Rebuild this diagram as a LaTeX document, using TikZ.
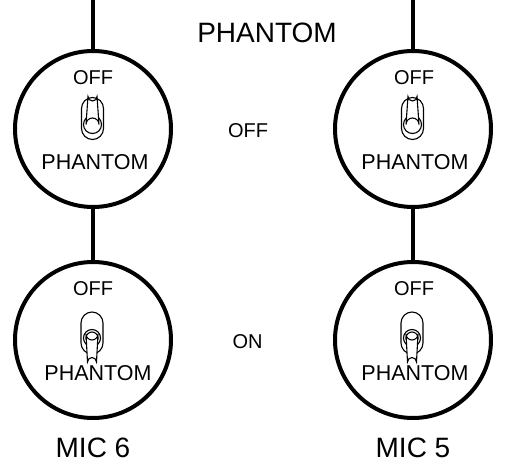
\documentclass[tikz,border=0pt]{standalone}
\usepackage{fontspec}
\setmainfont{Liberation Sans}

\tikzset{
  dial/.style={circle,draw,line width=4pt,inner sep=0pt,minimum size=156pt,fill=white},
  wire/.style={line width=4.5pt},
  lbl/.style={inner sep=0pt,font=\fontsize{20}{22}\selectfont},
  plbl/.style={inner sep=0pt,font=\fontsize{21.5}{23}\selectfont},
  biglbl/.style={inner sep=0pt,font=\fontsize{28}{30}\selectfont},
  offtoggle/.pic={
    \draw[line width=1.1pt,fill=white,rounded corners=11pt] (-11,-27) rectangle (11,15);
    \draw[line width=1.1pt] (0,0) circle (9pt);
    \draw[line width=1.1pt,fill=white] (-6.5,0) -- (-4.5,-28) arc (180:360:4.5pt) -- (6.5,0) arc (0:180:6.5pt) -- cycle;
  },
  ontoggle/.pic={
    \draw[line width=1.1pt,fill=white,rounded corners=11pt] (-11,-26) rectangle (11,16);
    \draw[line width=1.1pt] (0,0) circle (8.5pt);
    \draw[line width=1.1pt] (0,0) circle (6pt);
    \draw[line width=1.1pt,fill=white] (-6,-4) arc (180:360:6pt) -- (4.5,24) arc (0:180:4.5pt) -- cycle;
  }
}

\begin{document}
\begin{tikzpicture}[x=1pt,y=-1pt]
  \useasboundingbox (0,0) rectangle (509,473);

  % wires
  \coordinate (top6) at (93,0);
  \coordinate (top5) at (413,0);

  % dials
  \node[dial] (off6) at (93,129) {};
  \node[dial] (off5) at (413,129) {};
  \node[dial] (on6) at (93,340) {};
  \node[dial] (on5) at (413,340) {};

  \draw[wire] (top6) -- (off6.north);
  \draw[wire] (top5) -- (off5.north);
  \draw[wire] (off6.south) -- (on6.north);
  \draw[wire] (off5.south) -- (on5.north);

  % switches
  \pic at (92.5,124.5) {offtoggle};
  \pic at (412.5,124.5) {offtoggle};
  \pic at (92,338) {ontoggle};
  \pic at (412,338) {ontoggle};

  % texts in the dials
  \node[lbl] (off6a) at (93,78) {OFF};
  \node[plbl] (off6b) at (95,162) {PHANTOM};
  \node[lbl] (off5a) at (414,78) {OFF};
  \node[plbl] (off5b) at (415,162) {PHANTOM};
  \node[lbl] (on6a) at (93,289) {OFF};
  \node[plbl] (on6b) at (98,373) {PHANTOM};
  \node[lbl] (on5a) at (414,289) {OFF};
  \node[plbl] (on5b) at (415,373) {PHANTOM};

  % texts outside
  \node[biglbl] (title) at (267,33) {PHANTOM};
  \node[lbl] (stoff) at (248,131) {OFF};
  \node[lbl] (ston) at (247.5,342) {ON};
  \node[biglbl] (mic6) at (93,448) {MIC 6};
  \node[biglbl] (mic5) at (413,448) {MIC 5};
\end{tikzpicture}
\end{document}
